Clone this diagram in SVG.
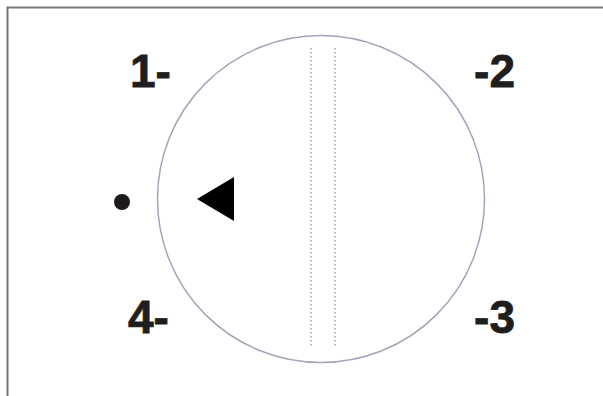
<svg xmlns="http://www.w3.org/2000/svg" width="603" height="396" viewBox="0 0 603 396">
<style>
.lbl{font-family:"Liberation Sans",Arial,sans-serif;font-weight:bold;font-size:46px;fill:#1e1e1e;stroke:#1e1e1e;stroke-width:0.8}
.dot{stroke:#777;stroke-width:1;stroke-dasharray:1.5 2.5;fill:none}
</style>
<rect width="603" height="396" fill="#fff"/>
<g id="frame"><path d="M7.5 396 V7.5 H603" fill="none" stroke="#777" stroke-width="2"/></g>
<g id="dial">
<circle cx="321" cy="199" r="163.5" fill="none" stroke="#a9a2b8" stroke-width="1.5"/>
<line class="dot" x1="311" y1="48" x2="311" y2="348"/>
<line class="dot" x1="335" y1="48" x2="335" y2="348"/>
</g>
<g id="pointer"><polygon points="197,199 234,177 234,221" fill="#000"/></g>
<g id="mark"><circle cx="122" cy="202" r="8" fill="#1e1a1c"/></g>
<g id="labels">
<text class="lbl" x="130" y="87">1-</text>
<text class="lbl" x="515" y="87" text-anchor="end">-2</text>
<text class="lbl" x="515" y="333" text-anchor="end">-3</text>
<text class="lbl" x="128" y="333">4-</text>
</g>
</svg>
